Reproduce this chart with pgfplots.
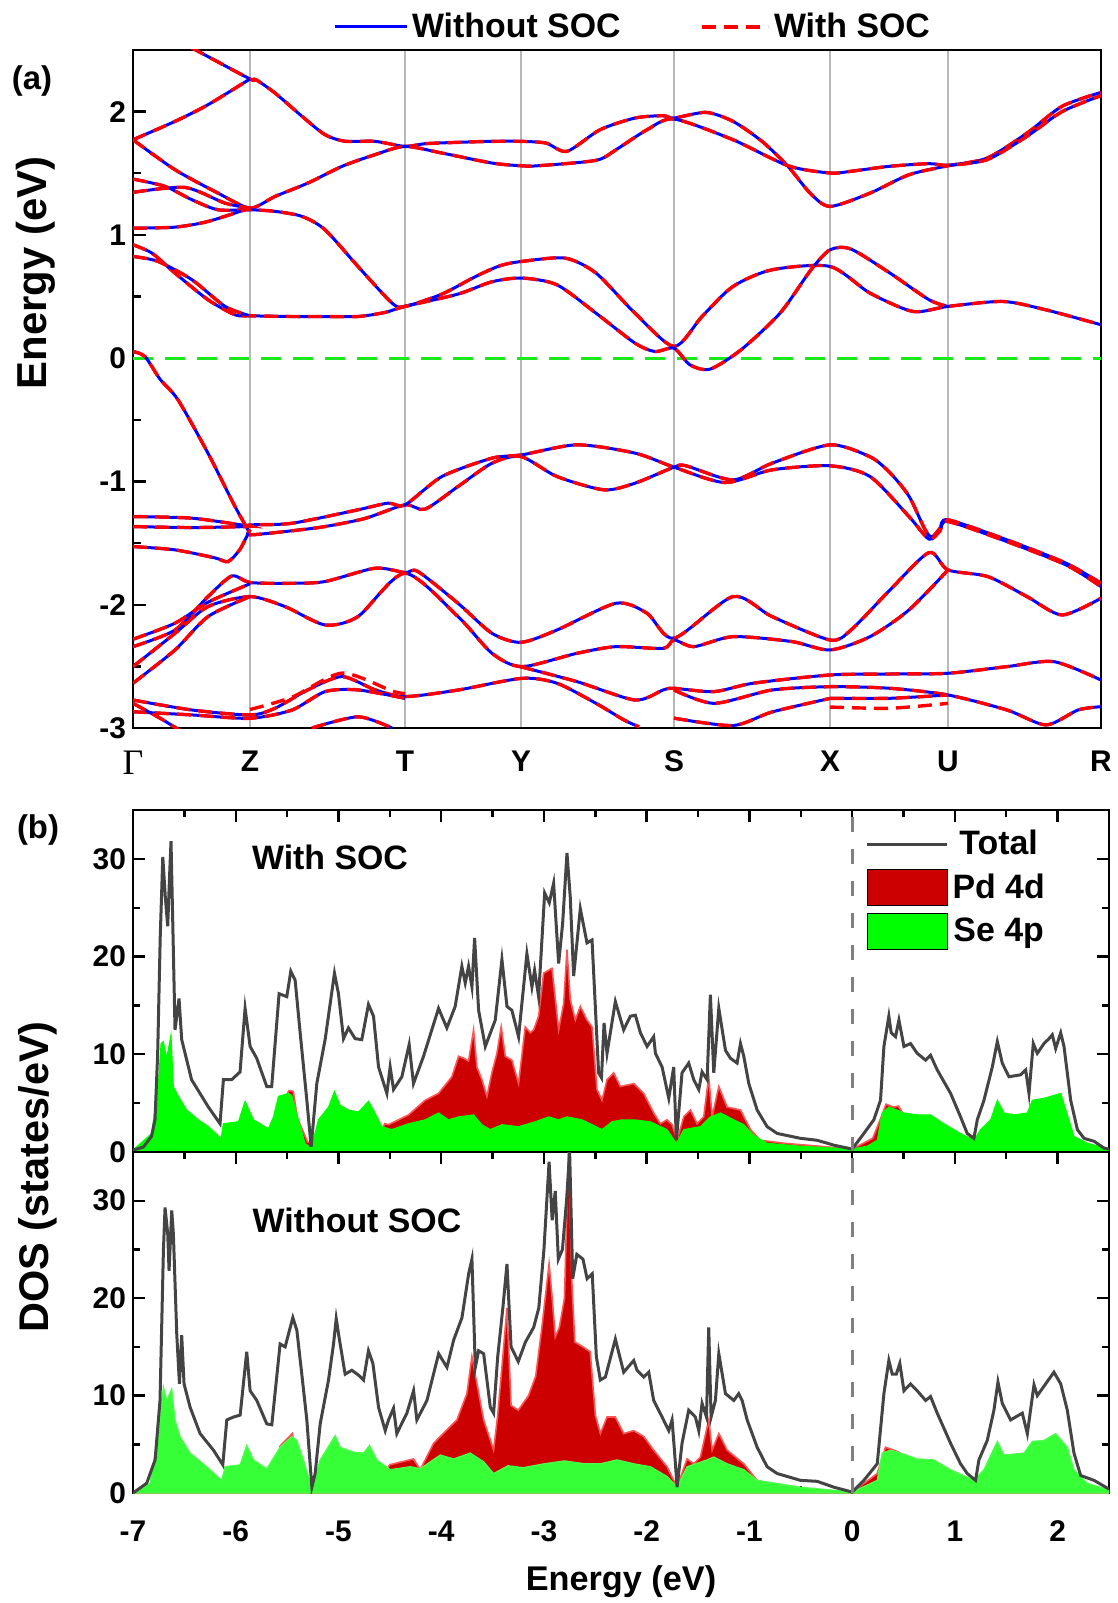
\documentclass[border=0pt]{standalone}
\usepackage{fontspec}
\setmainfont{Liberation Sans}
\newfontfamily\gammafont{Liberation Serif}
\usepackage{pgfplots}
\usepackage{pgfplotstable}
\pgfplotsset{compat=1.18}
\definecolor{pdred}{RGB}{204,0,0}
\definecolor{pdedge}{RGB}{255,85,85}
\definecolor{segreen}{RGB}{0,255,0}
\definecolor{segreenb}{RGB}{55,255,55}
\definecolor{totgray}{RGB}{68,68,68}
\definecolor{fermigreen}{RGB}{25,235,25}
\definecolor{bandblue}{RGB}{0,0,255}
\definecolor{bandred}{RGB}{255,0,0}
\newcommand{\fs}[1]{\fontsize{#1}{#1}\selectfont}
\pgfplotsset{
 bblue/.style={bandblue, line width=1.5bp, smooth, tension=0.45, forget plot},
 bred/.style={bandred, line width=1.7bp, dash pattern=on 7bp off 4bp, smooth, tension=0.45, forget plot},
 dosaxis/.style={width=488bp, height=171bp, scale only axis, xmin=-7, xmax=2.5, ymin=0, ymax=35,
   xtick={-7,-6,...,2}, minor xtick={-6.5,-5.5,...,2.5}, ytick={0,10,20,30}, minor ytick={5,15,25},
   tick align=inside, major tick length=6bp, minor tick length=3.5bp,
   axis line style={line width=1.3bp}, tick style={line width=1.2bp, black},
   ticklabel style={font=\bfseries\fs{15}}, /pgf/number format/assume math mode=true},
}
\newcommand{\band}[1]{\addplot[bblue] coordinates {#1};\addplot[bred] coordinates {#1};}
\newcommand{\socband}[1]{\addplot[bred] coordinates {#1};}

% ---------- DOS data: With SOC ----------
\pgfplotstableread{
E D
-7.0 0.2
-6.9 0.5
-6.82 1.6
-6.786 3.3
-6.76 10
-6.735 22
-6.71 30.2
-6.685 26
-6.662 23.1
-6.645 28
-6.63 31.8
-6.61 22
-6.591 12.5
-6.552 15.7
-6.526 11.5
-6.43 7.4
-6.266 4.6
-6.153 2.9
-6.12 7.4
-6.04 7.4
-5.958 8.2
-5.909 14.7
-5.86 10.8
-5.796 9.6
-5.698 6.7
-5.65 6.7
-5.578 16.2
-5.503 15.9
-5.464 18.5
-5.422 17.6
-5.373 12.2
-5.308 5.3
-5.266 0.55
-5.211 7.0
-5.13 11.5
-5.039 18.3
-5.0 16.2
-4.951 11.6
-4.903 12.7
-4.838 11.6
-4.773 11.5
-4.708 15.1
-4.659 13.9
-4.61 8.7
-4.529 6.0
-4.497 8.7
-4.464 6.4
-4.383 7.7
-4.312 11.0
-4.27 7.0
-4.172 9.8
-4.026 14.7
-3.945 12.7
-3.864 14.9
-3.799 19.0
-3.766 17.3
-3.734 19.0
-3.701 16.9
-3.675 21.9
-3.636 14.5
-3.571 10.8
-3.474 13.5
-3.409 19.7
-3.36 14.9
-3.312 14.5
-3.247 11.8
-3.166 20.3
-3.117 16.9
-3.091 18.6
-3.052 15.9
-2.993 26.5
-2.948 25.5
-2.906 27.5
-2.857 19.3
-2.818 23.4
-2.776 30.6
-2.744 26.1
-2.711 18.0
-2.646 24.9
-2.581 21.4
-2.532 21.7
-2.468 8.1
-2.44 7.6
-2.415 13.2
-2.386 10.1
-2.305 15.4
-2.224 12.5
-2.159 13.9
-2.11 14.0
-2.061 12.2
-1.996 10.8
-1.932 11.8
-1.915 10.1
-1.85 8.7
-1.785 5.5
-1.737 8.7
-1.711 1.2
-1.656 8.1
-1.591 9.1
-1.542 7.4
-1.493 6.4
-1.461 8.2
-1.412 7.4
-1.38 16.1
-1.347 8.1
-1.298 14.7
-1.233 10.4
-1.185 9.6
-1.12 9.1
-1.087 11.1
-1.055 9.8
-1.006 7.0
-0.925 4.3
-0.828 2.6
-0.73 1.9
-0.503 1.4
-0.341 1.2
-0.178 0.7
0.0 0.3
0.114 1.9
0.211 3.3
0.276 5.3
0.309 10.8
0.357 13.9
0.38 12.2
0.422 11.8
0.455 13.5
0.504 10.8
0.568 11.1
0.633 10.1
0.715 9.4
0.763 9.9
0.828 8.4
0.958 6.0
1.055 3.6
1.12 1.9
1.185 1.4
1.218 3.3
1.283 5.3
1.364 8.7
1.413 11.3
1.461 9.1
1.526 7.7
1.64 7.9
1.689 8.4
1.721 6.0
1.763 11.1
1.802 10.1
1.867 11.1
1.916 11.6
1.948 12.0
1.981 10.6
2.03 12.2
2.062 10.8
2.127 5.3
2.192 2.3
2.257 1.4
2.354 1.1
2.452 0.4
2.5 0.3
}\totA
\pgfplotstableread{
E D
-7.0 0
-6.7 0.3
-6.0 0.6
-5.6 1.5
-5.55 5.0
-5.48 6.3
-5.44 6.2
-5.40 3.5
-5.3 1.0
-5.1 1.0
-4.8 1.2
-4.6 1.6
-4.55 2.9
-4.513 2.8
-4.318 3.8
-4.156 5.3
-4.026 6.0
-3.896 7.7
-3.831 9.8
-3.78 9.6
-3.734 9.3
-3.685 12.5
-3.653 8.7
-3.604 7.4
-3.555 5.7
-3.507 8.1
-3.458 10.1
-3.416 12.8
-3.377 9.8
-3.312 9.4
-3.247 7.0
-3.182 12.8
-3.133 12.2
-3.1 12.5
-3.052 13.9
-3.003 18.3
-2.971 18.5
-2.922 18.8
-2.857 12.5
-2.808 15.2
-2.776 20.7
-2.744 15.6
-2.695 13.5
-2.646 14.9
-2.581 13.5
-2.532 12.8
-2.484 6.4
-2.435 5.3
-2.386 7.4
-2.321 8.1
-2.256 6.7
-2.126 7.0
-2.029 6.0
-1.932 4.0
-1.867 2.9
-1.802 3.3
-1.753 2.8
-1.704 1.2
-1.639 3.6
-1.574 4.3
-1.51 2.9
-1.445 3.6
-1.396 7.7
-1.363 3.6
-1.298 6.7
-1.217 4.6
-1.087 4.3
-0.99 2.3
-0.893 1.2
-0.665 0.9
0.0 0.3
0.2 1.4
0.28 3.5
0.33 4.9
0.4 4.6
0.45 4.7
0.55 3.0
0.8 1.5
1.5 1.5
2.5 0.2
}\pdA
\pgfplotstableread{
E D
-7.0 0.2
-6.818 1.9
-6.753 7.0
-6.727 11.1
-6.705 11.3
-6.672 9.6
-6.63 12.0
-6.607 6.7
-6.558 5.7
-6.477 4.3
-6.364 3.3
-6.266 2.6
-6.143 1.4
-6.12 2.9
-5.974 3.1
-5.909 5.2
-5.828 3.3
-5.682 2.4
-5.633 3.6
-5.584 5.7
-5.487 6.0
-5.455 5.8
-5.39 3.3
-5.325 0.9
-5.266 0.4
-5.195 3.3
-5.097 4.6
-5.039 6.2
-4.984 4.8
-4.903 4.3
-4.805 4.1
-4.708 5.2
-4.659 4.3
-4.578 2.6
-4.481 2.3
-4.318 2.9
-4.156 3.3
-4.026 4.0
-3.929 3.3
-3.831 3.6
-3.685 3.8
-3.604 2.8
-3.523 2.3
-3.409 2.8
-3.247 2.6
-3.085 3.1
-2.955 3.6
-2.857 3.3
-2.776 3.6
-2.63 3.3
-2.532 2.8
-2.435 2.3
-2.338 3.1
-2.24 3.3
-2.126 3.3
-1.964 3.1
-1.802 2.3
-1.711 0.9
-1.639 2.3
-1.477 2.6
-1.38 3.6
-1.282 4.0
-1.152 3.3
-1.055 2.8
-0.958 1.7
-0.828 0.9
-0.503 0.6
0.0 0.3
0.146 0.6
0.244 1.2
0.292 4.0
0.357 4.6
0.438 4.3
0.503 4.0
0.633 3.8
0.763 3.8
0.893 2.9
1.055 1.9
1.185 1.2
1.25 2.3
1.348 3.3
1.413 5.3
1.478 4.0
1.575 3.8
1.705 4.0
1.754 5.3
1.867 5.5
2.03 6.0
2.11 3.3
2.159 1.6
2.289 0.9
2.5 0.3
}\seA
% ---------- DOS data: Without SOC ----------
\pgfplotstableread{
E D
-7.0 0.0
-6.867 1.0
-6.785 3.4
-6.737 9.5
-6.704 24.9
-6.688 29.3
-6.662 26.6
-6.649 22.8
-6.623 29.0
-6.607 26.6
-6.574 16.3
-6.548 11.2
-6.526 16.2
-6.503 11.2
-6.444 8.8
-6.347 6.1
-6.217 4.4
-6.126 2.9
-6.087 7.5
-6.022 7.8
-5.957 8.0
-5.893 14.5
-5.86 10.5
-5.795 9.5
-5.698 7.1
-5.649 7.0
-5.568 15.3
-5.519 15.0
-5.487 16.3
-5.444 18.0
-5.405 16.7
-5.357 12.2
-5.308 7.5
-5.259 0.6
-5.227 2.0
-5.178 7.1
-5.097 11.6
-5.048 15.3
-5.022 17.9
-4.99 15.7
-4.935 12.2
-4.87 12.6
-4.805 12.1
-4.756 11.6
-4.708 14.6
-4.665 13.3
-4.61 8.8
-4.545 6.4
-4.513 7.5
-4.464 8.7
-4.432 6.1
-4.334 8.2
-4.269 10.5
-4.237 7.5
-4.139 9.5
-4.025 14.3
-3.944 12.9
-3.879 15.7
-3.798 18.0
-3.733 22.5
-3.701 24.0
-3.668 12.9
-3.636 14.6
-3.587 14.3
-3.522 8.8
-3.49 8.2
-3.45 14.0
-3.40 19.0
-3.36 23.5
-3.32 15.0
-3.25 13.5
-3.18 15.5
-3.10 17.0
-3.05 19.0
-3.00 25.0
-2.95 34.0
-2.92 28.0
-2.89 31.0
-2.86 24.0
-2.82 25.0
-2.78 30.0
-2.75 35.0
-2.72 22.0
-2.68 24.5
-2.62 24.0
-2.58 22.0
-2.53 22.5
-2.49 14.0
-2.451 11.6
-2.402 11.9
-2.305 15.8
-2.224 12.4
-2.126 13.6
-2.094 12.6
-2.029 11.9
-1.98 12.4
-1.932 9.5
-1.85 7.8
-1.785 6.4
-1.753 7.5
-1.73 4.4
-1.704 0.6
-1.656 5.1
-1.591 8.5
-1.526 7.8
-1.493 6.4
-1.461 9.2
-1.418 7.8
-1.396 17.0
-1.373 7.8
-1.331 9.5
-1.298 14.3
-1.233 10.2
-1.152 9.5
-1.104 10.2
-1.071 9.5
-1.022 7.5
-0.925 4.7
-0.828 2.7
-0.73 2.0
-0.503 1.3
-0.341 1.2
-0.178 0.6
0.0 0.1
0.114 1.3
0.244 3.0
0.309 10.2
0.357 13.6
0.39 12.2
0.43 12.2
0.464 13.3
0.504 10.5
0.568 11.2
0.633 10.5
0.715 9.5
0.763 9.9
0.828 8.2
0.958 5.1
1.055 3.0
1.12 2.0
1.201 1.3
1.234 3.4
1.315 5.4
1.38 8.5
1.419 11.4
1.461 9.2
1.542 7.5
1.656 8.2
1.705 6.1
1.77 11.1
1.802 10.0
1.883 11.2
1.964 12.4
2.03 11.2
2.094 8.5
2.159 4.1
2.224 1.8
2.354 1.3
2.5 0.4
}\totB
\pgfplotstableread{
E D
-7.0 0
-6.7 0.3
-6.0 0.6
-5.6 1.5
-5.57 4.8
-5.45 6.1
-5.40 3.0
-5.3 1.0
-4.6 1.5
-4.5 2.9
-4.27 3.5
-4.204 2.4
-4.074 5.1
-4.009 5.8
-3.847 7.5
-3.75 10.2
-3.701 14.0
-3.652 11.2
-3.587 7.5
-3.49 4.4
-3.45 8.0
-3.40 14.0
-3.36 19.0
-3.32 9.0
-3.25 8.5
-3.15 10.0
-3.08 12.0
-3.02 17.0
-2.95 23.5
-2.92 20.0
-2.89 16.0
-2.85 17.0
-2.80 20.0
-2.76 36.0
-2.73 22.0
-2.70 15.5
-2.62 15.0
-2.55 14.5
-2.50 8.0
-2.451 6.1
-2.386 7.8
-2.305 7.8
-2.224 6.1
-2.126 6.4
-2.029 5.8
-1.932 4.4
-1.802 2.7
-1.704 0.6
-1.607 3.5
-1.542 3.0
-1.477 3.7
-1.396 7.5
-1.363 4.4
-1.298 6.1
-1.217 4.4
-1.055 3.0
-0.925 1.3
-0.665 0.6
0.0 0.1
0.244 2.0
0.325 4.7
0.406 4.4
0.471 4.1
0.6 2.0
1.0 1.0
2.0 1.5
2.5 0.2
}\pdB
\pgfplotstableread{
E D
-7.0 0.0
-6.834 1.0
-6.753 6.1
-6.704 10.9
-6.672 9.5
-6.623 10.7
-6.591 7.5
-6.542 5.8
-6.444 4.1
-6.282 2.7
-6.136 1.3
-6.104 2.7
-5.957 2.9
-5.893 4.9
-5.827 3.4
-5.698 2.5
-5.568 4.7
-5.454 5.8
-5.405 5.4
-5.341 3.4
-5.259 0.5
-5.178 3.4
-5.032 5.9
-4.984 4.7
-4.854 4.2
-4.756 4.1
-4.698 4.9
-4.626 3.4
-4.496 2.4
-4.3 2.7
-4.204 2.5
-4.009 3.9
-3.879 3.5
-3.717 4.1
-3.587 3.2
-3.49 2.0
-3.35 2.8
-3.2 2.6
-3.0 3.0
-2.8 3.3
-2.6 3.0
-2.451 3.0
-2.289 3.4
-2.126 3.0
-1.964 2.7
-1.802 1.7
-1.704 0.6
-1.607 2.7
-1.412 3.4
-1.347 3.7
-1.217 3.0
-1.055 2.4
-0.925 1.3
-0.503 0.6
0.0 0.1
0.244 1.3
0.292 4.1
0.373 4.4
0.471 4.1
0.633 3.5
0.795 3.4
0.958 2.4
1.185 1.3
1.283 2.4
1.413 5.3
1.478 3.9
1.672 4.1
1.754 5.3
1.867 5.4
1.981 6.1
2.094 4.7
2.159 2.4
2.289 1.0
2.5 0.3
}\seB

\begin{document}
\begin{tikzpicture}
\path[use as bounding box] (0bp,0bp) rectangle (559bp,-801.5bp);

% ================= (a) band structure =================
\begin{axis}[
  at={(66.5bp,-25bp)}, anchor=north west,
  width=484bp, height=339bp, scale only axis,
  xmin=133, xmax=1101, ymin=-3, ymax=2.5,
  xtick={133,250,405,521,674,830,948,1101},
  xticklabels={{\mdseries\gammafont\fs{18}Γ},Z,T,Y,S,X,U,R},
  xmajorgrids, major x grid style={black!28, line width=1bp},
  x tick style={draw=none},
  xticklabel style={font=\bfseries\fs{15}, yshift=-8bp},
  ytick={-3,-2,...,2}, minor ytick={-2.5,-1.5,...,1.5},
  ytick pos=left, tick align=inside,
  major tick length=6.5bp, minor tick length=4bp,
  y tick style={line width=1.2bp, black},
  yticklabel style={font=\bfseries\fs{15}},
  /pgf/number format/assume math mode=true,
  axis line style={line width=1.3bp},
  ylabel={Energy (eV)},
  ylabel style={at={(axis description cs:-0.100,0.671)}, anchor=center, font=\bfseries\fs{21}},
  legend columns=2,
  legend style={at={(axis description cs:0.517,1.034)}, anchor=center, draw=none, fill=none,
    font=\bfseries\fs{17}, /tikz/every even column/.append style={column sep=38bp}},
]
\addlegendimage{legend image code/.code={\draw[bandblue, line width=1.5bp] (0bp,0bp) -- (36bp,0bp);}}
\addlegendentry{Without SOC}
\addlegendimage{legend image code/.code={\draw[bandred, line width=1.75bp, dash pattern=on 7bp off 4bp] (0bp,0bp) -- (33bp,0bp);}}
\addlegendentry{With SOC}

\addplot[fermigreen, line width=1.5bp, dash pattern=on 10bp off 6bp, forget plot] coordinates {(133,0) (1101,0)};

% conduction bands
\band{(133,2.77) (195,2.503) (250,2.265) (256,2.259) (275,2.151) (302,1.962) (325,1.813) (345,1.76) (375,1.759) (405,1.718) (425,1.74) (458,1.751) (492,1.759) (521,1.759) (546,1.745) (567,1.678) (600,1.853) (635,1.948) (663,1.967) (674,1.948) (706,1.994) (733,1.921) (762,1.759) (788,1.556) (810,1.34) (830,1.231) (870,1.339) (909,1.488) (948,1.561) (987,1.623) (1027,1.826) (1062,2.043) (1101,2.156)}
\band{(133,1.772) (175,1.921) (208,2.056) (250,2.265)}
\band{(133,1.772) (175,1.529) (218,1.339) (250,1.218) (275,1.312) (308,1.421) (342,1.556) (375,1.651) (405,1.718) (442,1.664) (492,1.583) (521,1.561) (538,1.561) (596,1.605) (616,1.691) (647,1.853) (674,1.94) (733,1.772) (788,1.561) (830,1.502) (850,1.515) (889,1.556) (929,1.578) (948,1.565) (987,1.61) (1027,1.8) (1062,2.0) (1101,2.13)}
\band{(133,1.453) (165,1.394) (192,1.285) (218,1.204) (250,1.204) (275,1.191) (302,1.15) (325,1.042) (358,0.744) (392,0.447) (405,0.42) (442,0.52) (475,0.66) (500,0.75) (522,0.785) (565,0.812) (596,0.69) (635,0.365) (674,0.095) (702,0.338) (733,0.582) (772,0.717) (830,0.744) (870,0.528) (913,0.379) (948,0.42) (1003,0.46) (1046,0.392) (1101,0.271)}
\band{(133,1.345) (185,1.385) (225,1.258) (250,1.218)}
\band{(133,1.055) (175,1.063) (208,1.109) (250,1.218)}
\band{(133,0.92) (152,0.852) (175,0.69) (208,0.474) (235,0.352) (250,0.344) (292,0.338) (325,0.338) (358,0.338) (385,0.371) (405,0.42) (458,0.52) (492,0.62) (522,0.65) (557,0.595) (596,0.365) (635,0.122) (655,0.054) (674,0.081) (690,-0.054) (710,-0.089) (741,0.068) (780,0.365) (811,0.717) (830,0.879) (851,0.885) (890,0.69) (929,0.474) (948,0.42)}
\band{(133,0.825) (158,0.785) (192,0.636) (225,0.42) (250,0.344)}
% valence bands
\band{(133,0.054) (145,0.013) (160,-0.17) (178,-0.338) (208,-0.771) (235,-1.203) (248,-1.393) (250,-1.433) (292,-1.40) (325,-1.366) (365,-1.30) (405,-1.19) (425,-1.225) (458,-1.041) (492,-0.852) (521,-0.798) (557,-0.96) (604,-1.068) (635,-1.014) (674,-0.884) (686,-0.873) (733,-0.987) (772,-0.852) (830,-0.703) (870,-0.80) (890,-0.93) (909,-1.12) (925,-1.39) (932,-1.45) (940,-1.38) (948,-1.311) (1007,-1.474) (1066,-1.663) (1101,-1.826)}
\band{(133,-1.285) (192,-1.298) (248,-1.36) (250,-1.352) (292,-1.339) (358,-1.23) (388,-1.176) (405,-1.19) (442,-0.96) (492,-0.811) (522,-0.784) (577,-0.703) (635,-0.77) (674,-0.884) (725,-1.009) (772,-0.906) (830,-0.873) (870,-0.96) (909,-1.285) (929,-1.468) (940,-1.40) (948,-1.325) (1007,-1.488) (1066,-1.677) (1101,-1.853)}
\band{(133,-1.366) (192,-1.374) (248,-1.366)}
\band{(133,-1.528) (175,-1.555) (215,-1.62) (228,-1.65) (240,-1.55) (250,-1.39)}
\band{(133,-2.34) (175,-2.205) (208,-1.934) (232,-1.766) (250,-1.82) (292,-1.826) (325,-1.812) (375,-1.704) (405,-1.739) (418,-1.731) (458,-1.988) (492,-2.232) (521,-2.305) (557,-2.205) (616,-1.988) (647,-2.069) (674,-2.272) (733,-1.934) (772,-2.096) (830,-2.286) (851,-2.205) (890,-1.88) (929,-1.577) (948,-1.718) (988,-1.772) (1027,-1.934) (1062,-2.083) (1101,-1.947)}
\band{(133,-2.28) (175,-2.15) (208,-1.98) (250,-1.83)}
\band{(133,-2.502) (175,-2.232) (208,-2.015) (250,-1.934) (285,-2.015) (325,-2.164) (358,-2.096) (405,-1.745) (458,-2.096) (492,-2.394) (522,-2.502) (577,-2.394) (616,-2.34) (663,-2.354) (674,-2.286) (694,-2.34) (733,-2.259) (792,-2.299) (830,-2.367) (870,-2.259) (909,-2.042) (948,-1.718)}
\band{(133,-2.637) (175,-2.367) (208,-2.096) (250,-1.934)}
\band{(133,-2.773) (192,-2.854) (250,-2.894) (275,-2.84) (308,-2.69) (342,-2.583) (375,-2.69) (405,-2.745) (458,-2.692) (522,-2.597) (557,-2.637) (596,-2.8) (624,-2.935) (639,-2.99)}
\band{(133,-2.868) (192,-2.894) (250,-2.921) (292,-2.854) (325,-2.705) (358,-2.691) (405,-2.759)}
\band{(312,-3.0) (358,-2.909) (392,-3.0)}
\band{(133,-2.80) (160,-2.92) (180,-3.02)}
\band{(520,-2.502) (577,-2.624) (635,-2.773) (663,-2.692) (674,-2.678) (714,-2.705) (753,-2.637) (830,-2.57) (890,-2.562) (948,-2.556) (1007,-2.502) (1054,-2.462) (1101,-2.611)}
\band{(674,-2.692) (714,-2.8) (772,-2.692) (830,-2.665) (890,-2.678) (948,-2.732) (1007,-2.854) (1046,-2.975) (1078,-2.854) (1101,-2.827)}
\band{(830,-2.759) (890,-2.759) (948,-2.732)}
\band{(674,-2.92) (733,-2.98) (772,-2.87) (830,-2.76)}
\socband{(830,-2.83) (890,-2.84) (948,-2.80)}
\socband{(250,-2.85) (292,-2.75) (342,-2.555) (392,-2.70) (405,-2.72)}
\end{axis}

% ================= (b) DOS with SOC =================
\begin{axis}[dosaxis, at={(66.5bp,-405bp)}, anchor=north west, xticklabels={},
  legend style={at={(axis description cs:0.744,0.965)}, anchor=north west, draw=none, fill=none,
    font=\bfseries\fs{17}, row sep=3.5bp},
]
\addlegendimage{legend image code/.code={\draw[totgray, line width=1.5bp] (0bp,0bp) -- (40bp,0bp);}}
\addlegendentry{Total}
\addlegendimage{legend image code/.code={\draw[fill=pdred, draw=black, line width=0.5bp] (0bp,-9bp) rectangle (40bp,9bp);}}
\addlegendentry{Pd 4d}
\addlegendimage{legend image code/.code={\draw[fill=segreen, draw=black, line width=0.5bp] (0bp,-9bp) rectangle (40bp,9bp);}}
\addlegendentry{Se 4p}
\addplot[fill=pdred, draw=pdedge, line width=0.8bp, forget plot] table {\pdA} \closedcycle;
\addplot[fill=segreen, draw=segreen, line width=0.5bp, forget plot] table {\seA} \closedcycle;
\addplot[totgray, line width=1.5bp, forget plot] table {\totA};
\addplot[gray, line width=1.4bp, dash pattern=on 7.5bp off 8.5bp, forget plot] coordinates {(0,0) (0,35)};
\end{axis}

% ================= (b) DOS without SOC =================
\begin{axis}[dosaxis, at={(66.5bp,-576bp)}, anchor=north west, height=170.5bp,
  xlabel={Energy (eV)}, xlabel style={at={(axis description cs:0.5,-0.26)}, anchor=center, font=\bfseries\fs{17.2}},
  ylabel={DOS (states/eV)}, ylabel style={at={(axis description cs:-0.0973,0.927)}, anchor=center, font=\bfseries\fs{20.8}},
  xticklabel style={yshift=-10.5bp},
]
\addplot[fill=pdred, draw=pdedge, line width=0.8bp, forget plot] table {\pdB} \closedcycle;
\addplot[fill=segreenb, draw=segreen!70!white, line width=0.6bp, forget plot] table {\seB} \closedcycle;
\addplot[totgray, line width=1.5bp, forget plot] table {\totB};
\addplot[gray, line width=1.4bp, dash pattern=on 7.5bp off 8.5bp, forget plot] coordinates {(0,0) (0,35)};
\end{axis}

\node[font=\bfseries\fs{16.5}] at (16bp,-40.5bp) {(a)};
\node[font=\bfseries\fs{16.5}] at (19bp,-415bp) {(b)};
\node[font=\bfseries\fs{17}] at (165bp,-428.5bp) {With SOC};
\node[font=\bfseries\fs{17}] at (178.5bp,-610bp) {Without SOC};
\end{tikzpicture}
\end{document}
